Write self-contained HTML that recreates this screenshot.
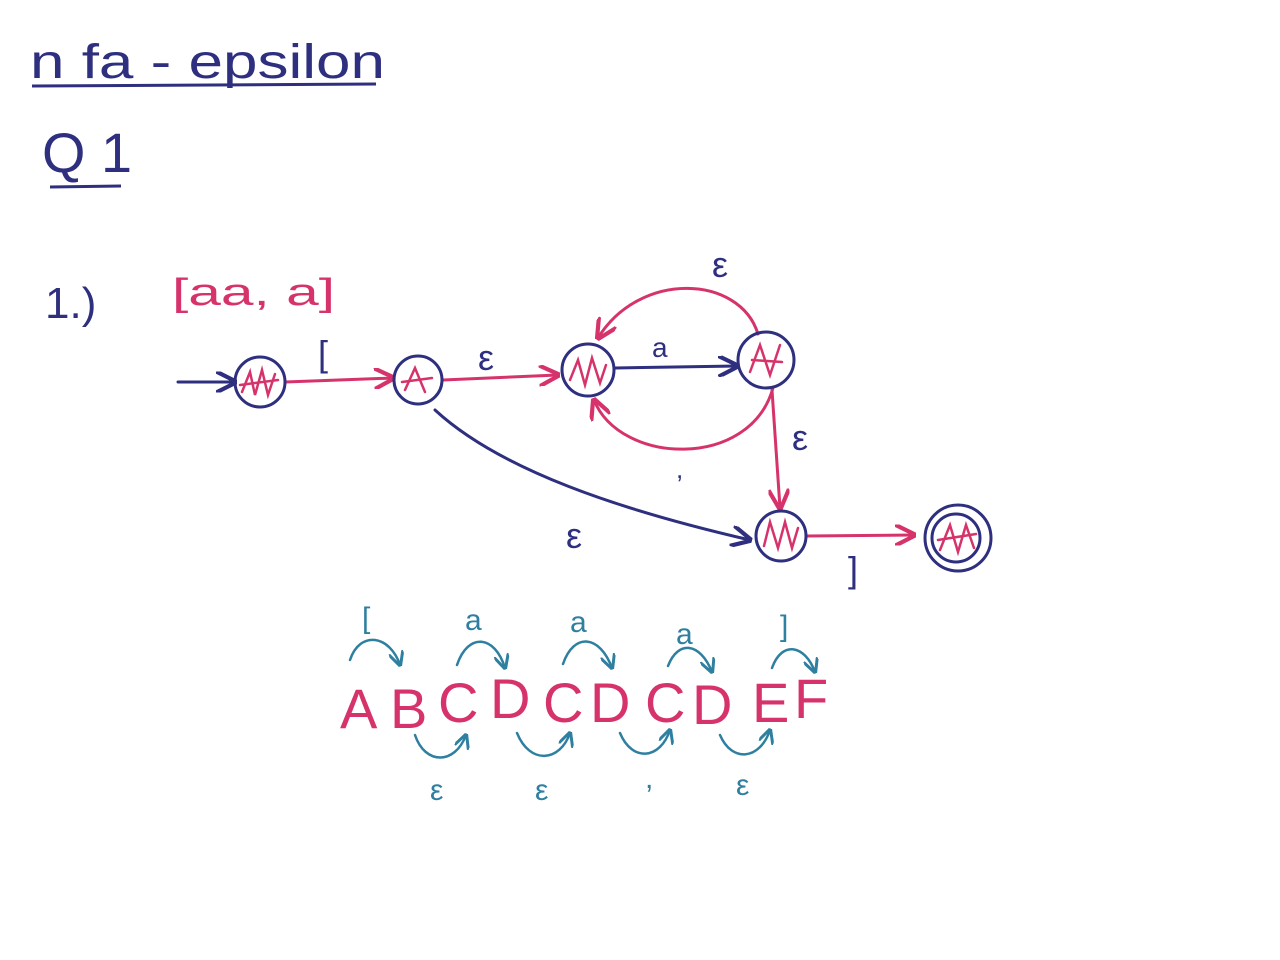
<!DOCTYPE html>
<html><head><meta charset="utf-8"><style>
html,body{margin:0;padding:0;background:#fff;width:1280px;height:960px;overflow:hidden}
svg text{font-family:"Liberation Sans",sans-serif}
</style></head><body>
<svg width="1280" height="960" viewBox="0 0 1280 960" xmlns="http://www.w3.org/2000/svg">
<defs>
<marker id="an" viewBox="0 0 10 10" refX="9" refY="5" markerWidth="7" markerHeight="7" orient="auto"><path d="M0,0 L10,5 L0,10" fill="none" stroke="#2e2f7f" stroke-width="2"/></marker>
<marker id="ap" viewBox="0 0 10 10" refX="9" refY="5" markerWidth="7" markerHeight="7" orient="auto"><path d="M0,0 L10,5 L0,10" fill="none" stroke="#d6336c" stroke-width="2"/></marker>
<marker id="at" viewBox="0 0 10 10" refX="9" refY="5" markerWidth="6" markerHeight="6" orient="auto"><path d="M0,0 L10,5 L0,10" fill="none" stroke="#2e7fa0" stroke-width="2"/></marker>
</defs>
<g fill="#2e2f7f" font-size="48">
<text x="30" y="78" textLength="355" lengthAdjust="spacingAndGlyphs">n fa - epsilon</text>
<text x="42" y="172" font-size="56" textLength="90" lengthAdjust="spacingAndGlyphs">Q 1</text>
<text x="45" y="318" font-size="44">1.)</text>
</g>
<line x1="32" y1="86" x2="376" y2="84" stroke="#2e2f7f" stroke-width="3"/>
<line x1="50" y1="187" x2="121" y2="186" stroke="#2e2f7f" stroke-width="3"/>
<text x="172" y="305" fill="#d6336c" font-size="38" textLength="163" lengthAdjust="spacingAndGlyphs">[aa, a]</text>
<g fill="none" stroke-width="3" stroke-linecap="round">
<path d="M178,382 L235,382" stroke="#2e2f7f" marker-end="url(#an)"/>
<path d="M285,382 L393,378" stroke="#d6336c" marker-end="url(#ap)"/>
<path d="M443,380 L558,375" stroke="#d6336c" marker-end="url(#ap)"/>
<path d="M615,368 L737,366" stroke="#2e2f7f" marker-end="url(#an)"/>
<path d="M758,334 C740,275 640,270 598,338" stroke="#d6336c" marker-end="url(#ap)"/>
<path d="M773,388 C750,470 620,465 594,400" stroke="#d6336c" marker-end="url(#ap)"/>
<path d="M772,390 L780,508" stroke="#d6336c" marker-end="url(#ap)"/>
<path d="M435,410 C500,470 620,510 750,540" stroke="#2e2f7f" marker-end="url(#an)"/>
<path d="M806,536 L914,535" stroke="#d6336c" marker-end="url(#ap)"/>
<g stroke="#2e2f7f">
<circle cx="260" cy="382" r="25"/><circle cx="418" cy="380" r="24"/><circle cx="588" cy="370" r="26"/>
<circle cx="766" cy="360" r="28"/><circle cx="781" cy="536" r="25"/><circle cx="958" cy="538" r="33"/><circle cx="956" cy="538" r="24"/>
</g>
<g stroke="#d6336c" stroke-width="2.5">
<path d="M242,392 L250,372 L255,395 L262,370 L268,395 L275,374 M240,385 L278,380"/>
<path d="M405,390 L415,368 L425,392 M402,382 L432,378"/>
<path d="M570,380 L578,360 L585,385 L592,358 L600,383 L606,365"/>
<path d="M750,372 L760,345 L770,375 L780,345 M752,360 L782,362"/>
<path d="M764,546 L770,522 L778,548 L785,522 L792,548 L798,528"/>
<path d="M940,550 L950,525 L958,552 L966,525 L974,548 M938,540 L976,534"/>
</g>
</g>
<g fill="#2e2f7f" font-size="36">
<text x="318" y="366">[</text><text x="478" y="370">ε</text><text x="652" y="357" font-size="28">a</text>
<text x="712" y="277">ε</text><text x="676" y="478" font-size="26">,</text><text x="792" y="450">ε</text>
<text x="566" y="548">ε</text><text x="848" y="582">]</text>
</g>
<g fill="#d6336c" font-size="56">
<text x="340" y="728">A</text><text x="390" y="728">B</text><text x="438" y="722">C</text><text x="490" y="718">D</text>
<text x="543" y="722">C</text><text x="590" y="722">D</text><text x="645" y="722">C</text><text x="692" y="724">D</text>
<text x="752" y="722">E</text><text x="794" y="718">F</text>
</g>
<g fill="none" stroke="#2e7fa0" stroke-width="2.5" stroke-linecap="round">
<path d="M350,660 C360,630 390,635 400,665" marker-end="url(#at)"/>
<path d="M457,665 C468,632 495,635 505,668" marker-end="url(#at)"/>
<path d="M563,664 C574,632 600,635 612,668" marker-end="url(#at)"/>
<path d="M668,666 C678,640 700,642 712,672" marker-end="url(#at)"/>
<path d="M772,668 C782,640 805,645 815,672" marker-end="url(#at)"/>
<path d="M415,735 C425,765 455,765 466,735" marker-end="url(#at)"/>
<path d="M517,733 C530,765 560,762 570,733" marker-end="url(#at)"/>
<path d="M620,733 C632,762 660,760 670,730" marker-end="url(#at)"/>
<path d="M720,735 C732,763 760,760 770,730" marker-end="url(#at)"/>
</g>
<g fill="#2e7fa0" font-size="30">
<text x="362" y="628">[</text><text x="465" y="630">a</text><text x="570" y="632">a</text><text x="676" y="644">a</text>
<text x="780" y="636">]</text><text x="430" y="800">ε</text><text x="535" y="800">ε</text><text x="645" y="788">,</text><text x="736" y="795">ε</text>
</g>
</svg>
</body></html>
